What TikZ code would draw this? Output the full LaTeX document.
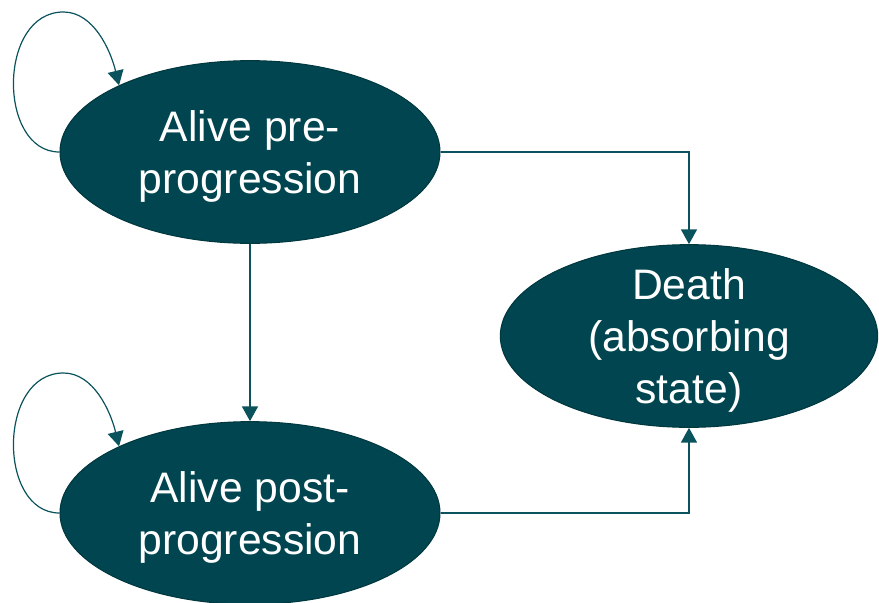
\documentclass[tikz,border=0pt]{standalone}
\usepackage{fontspec}
\setmainfont{Liberation Sans}
\usetikzlibrary{shapes.geometric,arrows.meta}
\definecolor{statefill}{RGB}{0,69,79}
\definecolor{stateline}{RGB}{0,56,64}
\definecolor{linkcol}{RGB}{10,82,92}
\begin{document}
\begin{tikzpicture}[x=0.75pt, y=-0.75pt,
  state/.style = {shape=ellipse, draw=stateline, line width=0.8pt,
    fill=statefill, inner sep=0pt,
    minimum width=285pt, minimum height=137pt},
  statetext/.style = {text=white, align=center, yshift=-3pt,
    font=\fontsize{32}{39}\selectfont},
  link/.style  = {draw=linkcol, line width=0.9pt,
    -{Triangle[width=12pt,length=11pt]}}]
\useasboundingbox (0,0) rectangle (879,603);
\node[state] (pre)   at (250,152) {};
\node[state] (post)  at (250,513) {};
\node[state, minimum width=283pt] (death) at (689,336) {};
\node[statetext] (pretext)   at (pre)   {Alive pre-\\progression};
\node[statetext] (posttext)  at (post)  {Alive post-\\progression};
\node[statetext] (deathtext) at (death) {Death\\(absorbing\\state)};
% transitions
\draw[link] (pre.south) -- (post.north);
\draw[link] (pre.east) -| (death.north);
\draw[link] (post.east) -| (death.south);
% staying in the same state
\foreach \n in {pre,post}
  \draw[link] (\n.west)
    .. controls ([shift={(-62,0)}]\n.west) and ([shift={(-62,-140)}]\n.west)
    .. ([shift={(4,-140)}]\n.west)
    .. controls ([shift={(34,-140)}]\n.west) and ([shift={(51,-102)}]\n.west)
    .. (\n.153.6);
\end{tikzpicture}
\end{document}
